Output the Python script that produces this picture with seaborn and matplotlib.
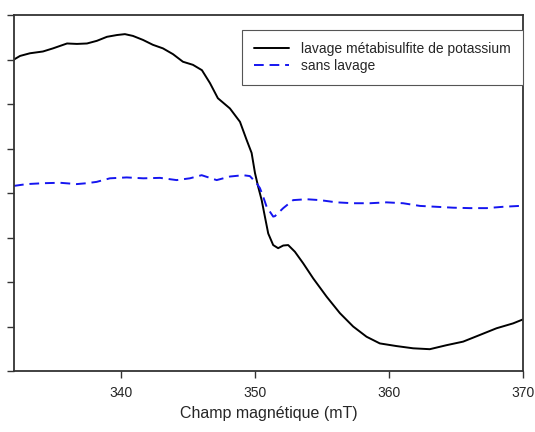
import matplotlib
matplotlib.use("Agg")
import matplotlib.pyplot as plt
import seaborn as sns
import pandas as pd

# Black curve: lavage métabisulfite de potassium
field_black = [332.0, 332.45, 333.19, 334.16, 334.91, 335.96, 336.70, 337.45, 338.19, 338.94,
               339.69, 340.28, 340.88, 341.63, 342.37, 343.12, 343.87, 344.61, 345.36, 346.03,
               346.63, 347.22, 348.12, 348.87, 349.37, 349.74, 349.99, 350.23, 350.49, 350.73,
               350.98, 351.35, 351.72, 352.10, 352.47, 352.97, 353.59, 354.34, 355.34, 356.33,
               357.32, 358.32, 359.31, 360.56, 361.80, 363.04, 364.29, 365.53, 366.78, 368.02,
               369.26, 370.0]
signal_black = [7.00, 7.08, 7.14, 7.18, 7.25, 7.36, 7.35, 7.36, 7.42, 7.51,
                7.55, 7.57, 7.53, 7.44, 7.33, 7.25, 7.12, 6.95, 6.88, 6.76,
                6.47, 6.13, 5.90, 5.60, 5.19, 4.90, 4.45, 4.14, 3.84, 3.47,
                3.09, 2.83, 2.76, 2.82, 2.83, 2.68, 2.42, 2.08, 1.67, 1.30,
                1.00, 0.77, 0.62, 0.56, 0.51, 0.49, 0.58, 0.66, 0.81, 0.96,
                1.07, 1.16]

# Blue dashed curve: sans lavage
field_blue = [332.0, 332.95, 334.19, 335.43, 336.68, 337.43, 338.17, 339.16, 340.41, 341.65,
              342.90, 344.14, 345.13, 346.01, 347.13, 348.12, 349.11, 349.61, 350.11, 350.36,
              350.60, 350.86, 351.35, 351.48, 352.10, 352.84, 353.84, 354.84, 356.08, 357.32,
              358.57, 359.81, 361.05, 362.30, 363.54, 364.78, 366.03, 367.28, 368.51, 369.76,
              370.0]
signal_blue = [4.16, 4.20, 4.22, 4.23, 4.20, 4.22, 4.25, 4.33, 4.35, 4.33,
               4.34, 4.29, 4.33, 4.40, 4.29, 4.37, 4.40, 4.38, 4.22, 4.11,
               3.92, 3.69, 3.47, 3.48, 3.66, 3.84, 3.86, 3.84, 3.79, 3.77,
               3.77, 3.79, 3.77, 3.71, 3.69, 3.67, 3.66, 3.66, 3.69, 3.71,
               3.72]

labels = ["lavage métabisulfite de potassium", "sans lavage"]
x_ticks = [340, 350, 360, 370]

df = pd.concat([
    pd.DataFrame({"field": field_black, "signal": signal_black, "serie": labels[0]}),
    pd.DataFrame({"field": field_blue, "signal": signal_blue, "serie": labels[1]}),
])

sns.set_style("ticks")
plt.rcParams['font.family'] = ['Liberation Sans', 'DejaVu Sans']
plt.rcParams['lines.solid_joinstyle'] = 'round'
plt.rcParams['lines.dash_joinstyle'] = 'round'

fig = plt.figure(figsize=(5.35, 4.32), dpi=100)
ax = fig.add_axes([14/535, 1-371/432, (523-14)/535, (371-15)/432])

sns.lineplot(data=df, x="field", y="signal", hue="serie", style="serie",
             palette={labels[0]: "black", labels[1]: "#1515f0"},
             dashes={labels[0]: "", labels[1]: (5, 3)},
             linewidth=1.4, ax=ax, sort=False, estimator=None)

ax.set_xlim(332, 370)
ax.set_ylim(0, 8)
ax.set_xticks(x_ticks)
ax.set_xticklabels([str(t) for t in x_ticks], fontsize=10)
ax.set_yticks(range(0, 9))
ax.set_yticklabels([])
ax.tick_params(axis='both', direction='out', length=5, width=1, color='#333333')
ax.tick_params(axis='x', pad=6)
for s in ax.spines.values():
    s.set_visible(True)
    s.set_linewidth(1.3)
    s.set_color('#333333')
ax.set_xlabel("Champ magnétique (mT)", fontsize=11.5, labelpad=4)
ax.set_ylabel("")

leg = ax.legend(loc='upper right', bbox_to_anchor=(1.0, 1 - 15/356), borderaxespad=0,
                fontsize=10, frameon=True, fancybox=False, framealpha=1,
                edgecolor='#555555', handlelength=2.5, handletextpad=0.9,
                borderpad=0.85, labelspacing=0.25)
leg.get_frame().set_linewidth(0.8)

fig.savefig("out.png", dpi=100)
